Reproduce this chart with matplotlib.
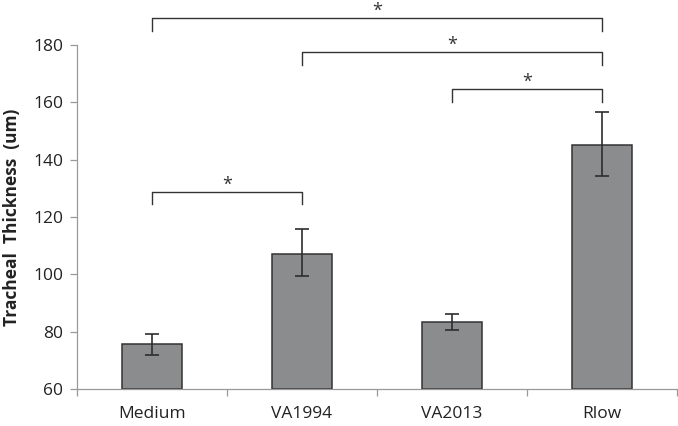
import matplotlib
matplotlib.use("Agg")
import matplotlib.pyplot as plt
import numpy as np

categories = ["Medium", "VA1994", "VA2013", "Rlow"]
means = [75.7, 107.2, 83.4, 145.1]
err_low = [71.7, 99.4, 80.5, 134.3]
err_high = [79.1, 115.9, 86.0, 156.5]
# brackets: (left index, right index, bar level, drop level)
brackets = [(0, 1, 128.7, 124.5), (2, 3, 164.6, 160.1), (1, 3, 177.5, 173.0), (0, 3, 189.4, 184.9)]
yticks = [60, 80, 100, 120, 140, 160, 180]

plt.rcParams['font.family'] = ['Open Sans', 'DejaVu Sans']

fig = plt.figure(figsize=(6.78, 4.26), dpi=100)
ax = fig.add_axes([0.1136, 0.0869, 0.885, 0.8075])

x = np.arange(len(categories))
m = np.array(means)
yerr = np.vstack([m - np.array(err_low), np.array(err_high) - m])
ax.bar(x, m - 60, bottom=60, width=0.4, color="#8b8c8e", edgecolor="#333333", linewidth=1.1, zorder=2)
ax.errorbar(x, m, yerr=yerr, fmt="none", ecolor="#2e2e2e", elinewidth=1.2, capsize=5, capthick=1.2, zorder=3)

ax.set_xlim(-0.5, 3.5)
ax.set_ylim(60, 180)
ax.set_yticks(yticks)
ax.set_yticklabels([str(v) for v in yticks], fontsize=12.5, color="#222222")
ax.set_xticks(x)
ax.set_xticklabels(categories, fontsize=12.5, color="#222222")
ax.tick_params(axis='x', which='major', length=0, pad=12)
ax.set_xticks(np.arange(-0.5, 4.0, 1.0), minor=True)
ax.tick_params(axis='x', which='minor', length=5, color="#999999", width=0.9)
ax.tick_params(axis='y', length=5, color="#999999", width=0.9, pad=5)

for s in ["top", "right"]:
    ax.spines[s].set_visible(False)
for s in ["left", "bottom"]:
    ax.spines[s].set_color("#999999")
    ax.spines[s].set_linewidth(0.9)

ax.set_ylabel("Tracheal  Thickness  (um)", fontsize=12.5, fontweight="bold", color="#222222", labelpad=9)

for (i, j, top, drop) in brackets:
    ax.plot([i, i, j, j], [drop, top, top, drop], color="#333333", lw=1.0, clip_on=False, zorder=4)
    ax.text((i + j) / 2, top + 2.6, "*", ha="center", va="center", fontsize=13, color="#333333", clip_on=False)

fig.savefig("out.png", dpi=100)
